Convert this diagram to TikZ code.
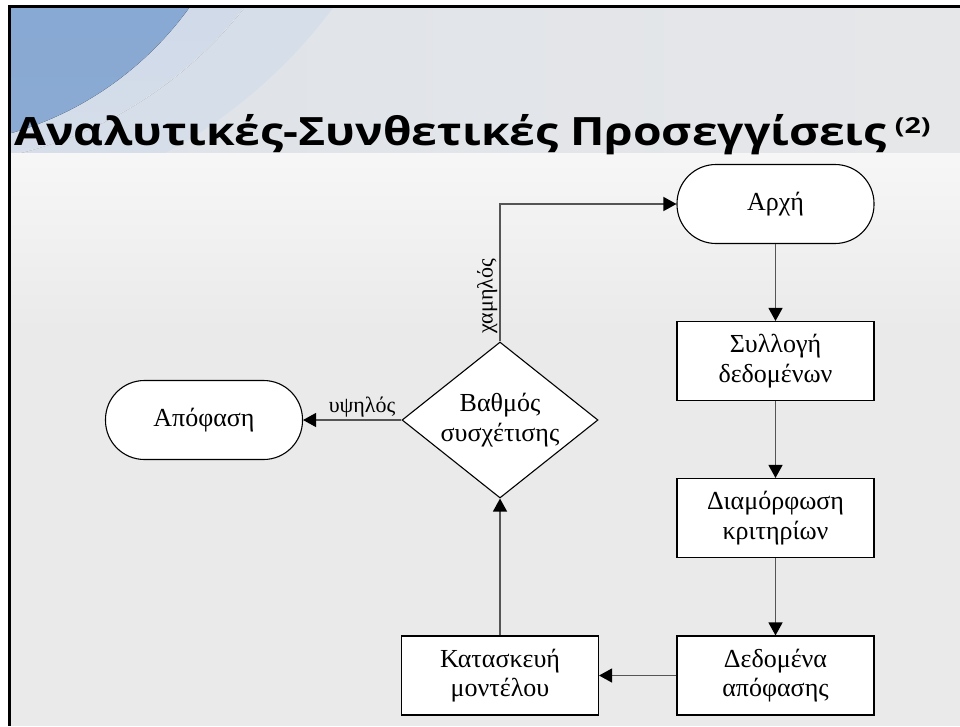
\documentclass[tikz,border=0pt]{standalone}
\usepackage{fontspec}
\setmainfont{Liberation Serif}
\newfontfamily\titlefont{Open Sans}
\usetikzlibrary{shapes.geometric,arrows.meta}

\definecolor{slidebg}{HTML}{EAEAEA}
\definecolor{bandbg}{HTML}{E6E7E9}
\definecolor{swdark}{HTML}{7DA1CF}
\definecolor{swmid}{HTML}{B4C7E2}
\definecolor{swwash}{HTML}{D6DEEA}
\definecolor{linegray}{HTML}{555555}

\begin{document}
\begin{tikzpicture}[x=1pt,y=-1pt,
  box/.style={draw=black,line width=1.1pt,fill=white,minimum width=197pt,
    minimum height=79pt,inner sep=0pt,align=center,
    font=\fontsize{26}{29.5}\selectfont},
  term/.style={box,rounded corners=39pt},
  decision/.style={diamond,aspect=1.25,draw=black,line width=1.1pt,fill=white,
    minimum width=196pt,minimum height=156pt,inner sep=0pt,align=center,
    font=\fontsize{26}{29.5}\selectfont},
  flow/.style={draw=linegray,line width=1.3pt,
    -{Triangle[length=13pt,width=14pt,color=black]}},
  lbl/.style={font=\fontsize{22}{24}\selectfont,inner sep=2pt}]

\useasboundingbox (0,0) rectangle (960,726);

% slide background
\fill[white] (0,0) rectangle (960,726);
\fill[slidebg] (9,6) rectangle (960,726);
\fill[top color=white!60!slidebg,bottom color=slidebg] (9,152) rectangle (960,330);

% title band with the blue swoosh
\begin{scope}
  \clip (9,6) rectangle (960,152);
  \fill[left color=swwash!50!bandbg,right color=bandbg] (9,6) rectangle (960,152);
  \fill[swwash] (-80,-300) circle (515);
  \fill[top color=swmid,bottom color=swwash] (-78,-244) circle (409);
  \fill[top color=swdark,bottom color=swdark!75!swmid] (-81,-187) circle (333);
  \draw[white,opacity=0.45,line width=0.8pt] (-78,-244) circle (409);
\end{scope}

% slide frame
\draw[black,line width=3pt] (8,6.5) -- (960,6.5);
\draw[black,line width=3pt] (9.5,5) -- (9.5,726);

% title (wide bold sans)
\node[anchor=base west,inner sep=0pt,
  font=\titlefont\bfseries\fontsize{39}{44}\selectfont] (title) at (14,145)
  {\scalebox{1.185}[1]{Αναλυτικές-Συνθετικές Προσεγγίσεις}\hspace{8pt}%
   \raisebox{12pt}{\scalebox{1.3}[1]{\fontsize{22}{22}\selectfont(2)}}};

% flowchart nodes
\node[term] (arche) at (775.5,204) {Αρχή};
\node[box] (collect) at (775.5,361) {Συλλογή\\δεδομένων};
\node[box] (criteria) at (775.5,518) {Διαμόρφωση\\κριτηρίων};
\node[box] (ddata) at (775.5,675.5) {Δεδομένα\\απόφασης};
\node[box] (model) at (500,675.5) {Κατασκευή\\μοντέλου};
\node[decision] (degree) at (500,420) {Βαθμός\\συσχέτισης};
\node[term] (decision) at (204,420) {Απόφαση};

% connectors
\draw[flow] (arche) -- (collect);
\draw[flow] (collect) -- (criteria);
\draw[flow] (criteria) -- (ddata);
\draw[flow] (ddata) -- (model);
\draw[flow] (model) -- (degree);
\draw[flow] (degree) -- node[lbl,above,pos=0.4] {υψηλός} (decision);
\draw[flow] (degree.north) |- node[lbl,rotate=90,anchor=south,pos=0.165] {χαμηλός} (arche.west);

\end{tikzpicture}
\end{document}
